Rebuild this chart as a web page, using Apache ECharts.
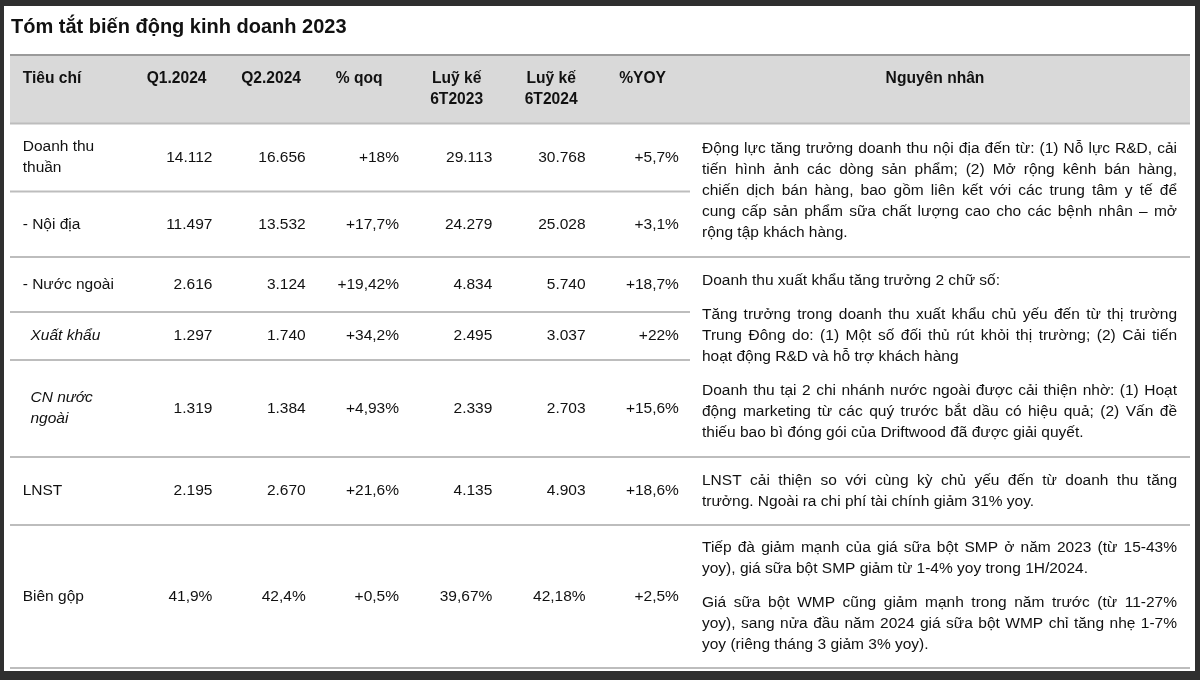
<!DOCTYPE html>
<html>
<head>
<meta charset="utf-8">
<script src="https://cdn.jsdelivr.net/npm/echarts@6/dist/echarts.min.js"></script>
<style>
html,body{margin:0;padding:0;background:#2f2f2f;}
#chart{width:1200px;height:680px;}
</style>
</head>
<body>
<div id="chart"></div>
<script>
// ---------------- DATA ----------------
const titleText = 'Tóm tắt biến động kinh doanh 2023';
const headers = ['Tiêu chí', 'Q1.2024', 'Q2.2024', '% qoq', 'Luỹ kế\n6T2023', 'Luỹ kế\n6T2024', '%YOY', 'Nguyên nhân'];
const rowLabels = ['Doanh thu\nthuần', '- Nội địa', '- Nước ngoài', 'Xuất khẩu', 'CN nước\nngoài', 'LNST', 'Biên gộp'];
const italicRows = [false, false, false, true, true, false, false];
const q1_2024 = ['14.112', '11.497', '2.616', '1.297', '1.319', '2.195', '41,9%'];
const q2_2024 = ['16.656', '13.532', '3.124', '1.740', '1.384', '2.670', '42,4%'];
const qoq = ['+18%', '+17,7%', '+19,42%', '+34,2%', '+4,93%', '+21,6%', '+0,5%'];
const luyKe6T2023 = ['29.113', '24.279', '4.834', '2.495', '2.339', '4.135', '39,67%'];
const luyKe6T2024 = ['30.768', '25.028', '5.740', '3.037', '2.703', '4.903', '42,18%'];
const yoy = ['+5,7%', '+3,1%', '+18,7%', '+22%', '+15,6%', '+18,6%', '+2,5%'];
const reasonSpans = [[0, 1], [2, 4], [5, 5], [6, 6]];
const reasonTexts = [
  [[
    'Động lực tăng trưởng doanh thu nội địa đến từ: (1) Nỗ lực R&D, cải',
    'tiến hình ảnh các dòng sản phẩm; (2) Mở rộng kênh bán hàng,',
    'chiến dịch bán hàng, bao gồm liên kết với các trung tâm y tế để',
    'cung cấp sản phẩm sữa chất lượng cao cho các bệnh nhân – mở',
    'rộng tập khách hàng.'
  ]],
  [[
    'Doanh thu xuất khẩu tăng trưởng 2 chữ số:'
  ], [
    'Tăng trưởng trong doanh thu xuất khẩu chủ yếu đến từ thị trường',
    'Trung Đông do: (1) Một số đối thủ rút khỏi thị trường; (2) Cải tiến',
    'hoạt động R&D và hỗ trợ khách hàng'
  ], [
    'Doanh thu tại 2 chi nhánh nước ngoài được cải thiện nhờ: (1) Hoạt',
    'động marketing từ các quý trước bắt dầu có hiệu quả; (2) Vấn đề',
    'thiếu bao bì đóng gói của Driftwood đã được giải quyết.'
  ]],
  [[
    'LNST cải thiện so với cùng kỳ chủ yếu đến từ doanh thu tăng',
    'trưởng. Ngoài ra chi phí tài chính giảm 31% yoy.'
  ]],
  [[
    'Tiếp đà giảm mạnh của giá sữa bột SMP ở năm 2023 (từ 15-43%',
    'yoy), giá sữa bột SMP giảm từ 1-4% yoy trong 1H/2024.'
  ], [
    'Giá sữa bột WMP cũng giảm mạnh trong năm trước (từ 11-27%',
    'yoy), sang nửa đầu năm 2024 giá sữa bột WMP chỉ tăng nhẹ 1-7%',
    'yoy (riêng tháng 3 giảm 3% yoy).'
  ]]
];

// ---------------- LAYOUT ----------------
const FAM = '"Liberation Sans", Arial, sans-serif';
const F_BODY = '15.5px ' + FAM;
const F_ITAL = 'italic 15.5px ' + FAM;
const F_HEAD = 'bold 15.6px ' + FAM;
const F_TITLE = 'bold 20px ' + FAM;
const INK = '#111111';
const LINE = '#bdbdbd';
const PANEL = { x: 4, y: 6, w: 1191, h: 665 };
const TABLE_L = 10, TABLE_R = 1190, LEFT_R = 690;
const HEAD_TOP = 55, HEAD_BOT = 123.5;
const rowEdges = [123.5, 191.5, 257, 312, 360, 457, 525, 668];
const fullLineIdx = [0, 2, 5, 6, 7];
const LABEL_X = 22.7, ITALIC_X = 30.5;
const VAL_RIGHT0 = 212.4, VAL_STEP = 93.3;
const HEAD_LEFT0 = 146.7, HEAD_STEP = 94.5;
const HEAD_Y = 79, HEAD_LH = 21;
const LH = 21, PARA_GAP = 13;
const REASON_X = 702, REASON_W = 475;

const ctx = document.createElement('canvas').getContext('2d');
function measure(t, font) { ctx.font = font; return ctx.measureText(t).width; }
function txt(text, x, y, font, align) {
  return { type: 'text', silent: true, x: x, y: y,
    style: { text: text, font: font, fill: INK, align: align || 'left', verticalAlign: 'middle' } };
}

const els = [];
els.push({ type: 'rect', silent: true, shape: { x: PANEL.x, y: PANEL.y, width: PANEL.w, height: PANEL.h }, style: { fill: '#ffffff' } });
els.push(txt(titleText, 11, 27, F_TITLE));
// header band
els.push({ type: 'rect', silent: true, shape: { x: TABLE_L, y: HEAD_TOP, width: TABLE_R - TABLE_L, height: HEAD_BOT - HEAD_TOP }, style: { fill: '#d9d9d9' } });
els.push({ type: 'line', silent: true, shape: { x1: TABLE_L, y1: HEAD_TOP, x2: TABLE_R, y2: HEAD_TOP }, style: { stroke: '#9a9a9a', lineWidth: 2 } });
// row separators
rowEdges.forEach(function (y, i) {
  const full = fullLineIdx.indexOf(i) >= 0;
  els.push({ type: 'line', silent: true, shape: { x1: TABLE_L, y1: y, x2: full ? TABLE_R : LEFT_R, y2: y }, style: { stroke: LINE, lineWidth: 2 } });
});
// header texts
headers.forEach(function (h, c) {
  const lines = h.split('\n');
  if (c === 0) { els.push(txt(h, LABEL_X, HEAD_Y, F_HEAD)); return; }
  if (c === headers.length - 1) { els.push(txt(h, (LEFT_R + TABLE_R) / 2 - 5, HEAD_Y, F_HEAD, 'center')); return; }
  const left = HEAD_LEFT0 + HEAD_STEP * (c - 1);
  if (lines.length === 1) { els.push(txt(h, left, HEAD_Y, F_HEAD)); return; }
  const maxW = Math.max.apply(null, lines.map(function (l) { return measure(l, F_HEAD); }));
  lines.forEach(function (l, k) { els.push(txt(l, left + maxW / 2, HEAD_Y + k * HEAD_LH, F_HEAD, 'center')); });
});
// body cells
const valueCols = [q1_2024, q2_2024, qoq, luyKe6T2023, luyKe6T2024, yoy];
rowLabels.forEach(function (lab, r) {
  const cy = (rowEdges[r] + rowEdges[r + 1]) / 2;
  const lines = lab.split('\n');
  const font = italicRows[r] ? F_ITAL : F_BODY;
  const lx = italicRows[r] ? ITALIC_X : LABEL_X;
  lines.forEach(function (l, k) {
    els.push(txt(l, lx, cy - (lines.length - 1) * LH / 2 + k * LH, font));
  });
  valueCols.forEach(function (col, c) {
    els.push(txt(col[r], VAL_RIGHT0 + VAL_STEP * c, cy, F_BODY, 'right'));
  });
});
// reasons (justified paragraphs)
reasonTexts.forEach(function (paras, b) {
  const span = reasonSpans[b];
  const top = rowEdges[span[0]], bot = rowEdges[span[1] + 1];
  const nLines = paras.reduce(function (s, p) { return s + p.length; }, 0);
  const total = nLines * LH + (paras.length - 1) * PARA_GAP;
  let y = (top + bot) / 2 - total / 2 + LH / 2;
  paras.forEach(function (p, pi) {
    p.forEach(function (line, li) {
      const last = li === p.length - 1;
      if (last) {
        els.push(txt(line, REASON_X, y, F_BODY));
      } else {
        const words = line.split(' ');
        const widths = words.map(function (w) { return measure(w, F_BODY); });
        const sum = widths.reduce(function (s, w) { return s + w; }, 0);
        const gap = (REASON_W - sum) / (words.length - 1);
        let x = REASON_X;
        words.forEach(function (w, wi) { els.push(txt(w, x, y, F_BODY)); x += widths[wi] + gap; });
      }
      y += LH;
    });
    if (pi < paras.length - 1) y += PARA_GAP;
  });
});

const chart = echarts.init(document.getElementById('chart'), null, { renderer: 'canvas' });
chart.setOption({
  backgroundColor: '#2f2f2f',
  animation: false,
  graphic: { elements: els }
});
</script>
</body>
</html>
